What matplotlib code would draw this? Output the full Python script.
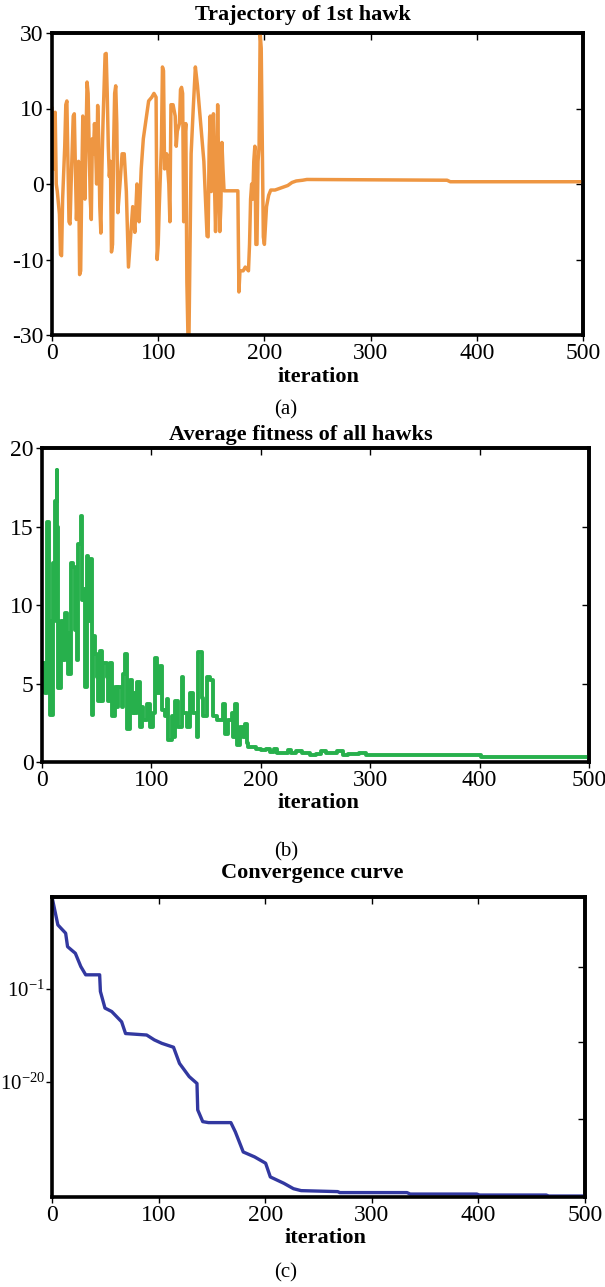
import numpy as np
import matplotlib
matplotlib.use("Agg")
import matplotlib.pyplot as plt

plt.rcParams['font.family'] = ['Liberation Serif', 'DejaVu Serif']
plt.rcParams['mathtext.fontset'] = 'custom'
plt.rcParams['mathtext.rm'] = 'Liberation Serif'
plt.rcParams['mathtext.it'] = 'Liberation Serif:italic'

# ---- (a) trajectory of 1st hawk (positions on the axis; ticks labelled as in the figure)
traj_iter = [0, 1, 2, 3, 4, 5, 7, 8, 9, 10, 12, 13, 14, 15, 16, 17, 18, 20, 21, 22,
             23, 25, 26, 27, 28, 29, 30, 31, 32, 33, 34, 35, 36, 37, 38, 39, 40, 41, 42, 43,
             44, 45, 46, 47, 48, 50, 51, 52, 53, 54, 55, 56, 57, 58, 59, 60, 61, 62, 64, 66,
             68, 70, 71, 72, 74, 76, 78, 80, 81, 82, 84, 86, 88, 91, 94, 96, 98, 99, 100, 101,
             102, 103, 104, 105, 106, 108, 110, 111, 112, 114, 116, 117, 118, 120, 121, 122, 123, 124, 125, 126,
             127, 128, 129, 130, 131, 133, 135, 137, 140, 143, 146, 147, 148, 149, 150, 151, 152, 153, 154, 155,
             156, 157, 158, 159, 160, 161, 162, 168, 175, 176, 177, 180, 182, 185, 186, 187, 188, 189, 190, 191,
             192, 193, 194, 195, 196, 197, 198, 199, 200, 202, 204, 206, 210, 214, 218, 222, 226, 230, 236, 240,
             372, 375, 500]
traj_val = [10, 8, 2, 9.5, 0, -1, -4, -9.3, -9.5, -2, 5, 10.5, 11, 3, -5, -5.3, 0, 9, 9.3, 2,
            -4.7, 3, -12, -11.5, 0, 9, 2, -2, 6, 13.5, 12, 5, -2, -4.7, 6, 4, 8, 5, 0, 10.4,
            6, -3, -6.5, 2, 8, 17.2, 17.3, 12, 5, 1, 3, -9, -8, 5, 12, 13, 8, -3.8, 0, 4,
            4, -1, -6, -11, -7, -3, -6.4, 0, -2, -5, 2, 6, 8, 11, 11.5, 12, 11.5, -10, -8, -3,
            1, 5, 15.5, 15, 2, 4, 0, -5, 10.5, 10.5, 9, 5, 7, 8, 12.5, 12.8, 12, -5, 6, 8,
            -13, -20, -20, -8, 4, 10, 15.5, 13, 8, 3, -6.9, -7, 5, 9, -1, 4, 9.3, 0, -6.3, 0,
            10.5, 2, -6.3, -3, 5.5, 2, -0.9, -0.9, -0.9, -14.3, -11.5, -11.5, -11, -11.5, -8, -2, 0, -2, 3, 5,
            -8, -8, 3, 5, 20, 18, 5, -7, -8, -3, -1.5, -0.8, -0.8, -0.6, -0.4, -0.2, 0.2, 0.4, 0.5, 0.6,
            0.5, 0.3, 0.3]
traj_yticks = [-20, -10, 0, 10, 20]
traj_ylabels = ['-30', '-10', '0', '10', '30']

# ---- (b) average fitness of all hawks
fit_iter = [0, 1.2, 2.4, 4.9, 6.1, 7.3, 9.8, 11, 11.9, 13.4, 14, 14.9, 17.1, 18.9, 21, 22.6, 24.1, 26.2, 28.7, 30.2,
            31.7, 33.2, 35.4, 36.3, 37.8, 39.3, 40.9, 42.4, 43.9, 45.4, 47, 48.5, 50, 51.5, 53, 54.6, 56.1, 59.1, 60.7, 62.2,
            63.7, 66.8, 68.3, 69.8, 72.9, 74.4, 75.9, 78, 80.5, 82, 83.5, 85, 86.6, 89.6, 91.2, 92.7, 95.7, 98.8, 101.8, 103.4,
            104.9, 107.9, 109.5, 112.5, 114, 115.5, 118.6, 120.1, 121.6, 124.7, 127.7, 129.3, 132.3, 135.4, 138.4, 141.5, 143, 146, 147.6, 150.6,
            153.7, 156.7, 159.8, 162.8, 165.2, 167.4, 170.4, 173.5, 175, 176.5, 178, 181.1, 184.1, 185.7, 187.2, 188.7, 196, 200, 205, 208,
            212, 215, 220, 225, 228, 232, 238, 245, 250, 255, 260, 265, 270, 275, 280, 285, 290, 295, 296, 400,
            401, 500]
fit_val = [6.3, 6.3, 4.4, 15.3, 9.0, 3.0, 12.7, 9.0, 16.6, 18.6, 15.0, 4.7, 9.0, 6.5, 9.5, 8.2, 5.6, 12.7, 12.4, 8.4,
           6.5, 13.9, 15.7, 10.3, 11.0, 4.8, 13.1, 9.0, 12.9, 3.0, 8.0, 6.9, 5.4, 3.9, 7.1, 3.9, 6.3, 5.4, 3.9, 6.3,
           2.9, 4.8, 3.5, 4.8, 3.5, 5.6, 6.9, 2.1, 5.2, 3.1, 4.4, 3.1, 5.1, 2.2, 3.5, 2.7, 3.7, 2.2, 3.1, 6.6,
           4.4, 6.1, 3.3, 2.9, 4.0, 1.4, 2.9, 1.6, 3.9, 2.2, 5.4, 3.1, 2.2, 4.4, 3.1, 1.6, 7.0, 4.1, 2.9, 5.4,
           5.2, 2.9, 2.7, 2.7, 3.7, 1.8, 2.7, 3.1, 1.6, 3.7, 1.1, 2.2, 1.6, 2.4, 1.2, 0.96, 0.85, 0.75, 0.8, 0.65,
           0.85, 0.55, 0.55, 0.75, 0.6, 0.7, 0.6, 0.45, 0.5, 0.7, 0.55, 0.6, 0.7, 0.45, 0.5, 0.5, 0.6, 0.55, 0.45, 0.45,
           0.35, 0.35]

# ---- (c) convergence curve, best fitness as log10 exponent
conv_iter = [0, 5.5, 12.8, 14.6, 21.9, 27, 31.6, 44.7, 45.4, 49.7, 56, 65.3, 69, 88.8, 96, 103, 114, 119.6, 128.7, 136,
             136.7, 141.4, 146.8, 167.8, 172, 179.4, 190, 200.4, 204.8, 217.5, 226.5, 233.7, 268, 270, 333, 336, 398.5, 401, 463.6, 466,
             500]
conv_exp = [17.8, 12.1, 10.4, 7.65, 6.3, 3.6, 1.9, 1.9, -1.5, -4.9, -5.6, -7.7, -10.1, -10.4, -11.4, -12.1, -12.9, -16.2, -18.9, -20.3,
            -25.7, -28.1, -28.3, -28.3, -30.2, -34.3, -35.3, -36.6, -39.4, -40.7, -41.8, -42.2, -42.4, -42.6, -42.6, -42.9, -42.9, -43.1, -43.1, -43.3,
            -43.3]
conv_left_ticks = [1e-1, 1e-20]
conv_left_labels = [r'$10^{-1}$', r'$10^{-20}$']
conv_right_ticks = [10 ** 3.5, 10 ** -11.8, 10 ** -27.6]

W, H = 605, 1287
fig = plt.figure(figsize=(W / 100, H / 100), dpi=100)


def make_axes(l, t, r, b):
    return fig.add_axes([l / W, 1 - b / H, (r - l) / W, (b - t) / H])


def style(ax, right_ticks):
    for s in ax.spines.values():
        s.set_linewidth(2.6)
    ax.set_xlim(0, 500)
    ax.set_xticks([0, 100, 200, 300, 400, 500])
    ax.tick_params(direction='out', length=4, width=1, labelsize=17, pad=2)
    top = ax.secondary_xaxis('top')
    top.set_xticks([100, 200, 300, 400])
    top.set_xticklabels([])
    top.tick_params(direction='in', length=5, width=1)
    top.spines['top'].set_linewidth(2.6)
    right = ax.secondary_yaxis('right')
    right.set_yticks(right_ticks)
    right.set_yticklabels([])
    right.tick_params(direction='in', length=5, width=1)
    right.spines['right'].set_linewidth(2.6)


# (a)
ax1 = make_axes(52, 33, 583, 335)
ax1.plot(traj_iter, traj_val, color='#EE9642', lw=2.5)
ax1.set_ylim(-20, 20)
ax1.set_yticks(traj_yticks)
ax1.set_yticklabels(traj_ylabels)
style(ax1, [-10, 0, 10])

# (b)
ax2 = make_axes(42, 448, 589, 762)
ax2.plot(fit_iter, fit_val, color='#27B04C', lw=2.8, drawstyle='steps-post')
ax2.set_ylim(0, 20)
ax2.set_yticks([0, 5, 10, 15, 20])
style(ax2, [5, 10, 15])

# (c)
ax3 = make_axes(52, 897, 585, 1197)
ax3.semilogy(conv_iter, 10.0 ** np.array(conv_exp), color='#3238A0', lw=2.4)
ax3.set_ylim(10 ** -43.5, 10 ** 17.8)
ax3.set_yticks(conv_left_ticks)
ax3.set_yticklabels(conv_left_labels)
ax3.yaxis.set_minor_locator(matplotlib.ticker.NullLocator())
style(ax3, conv_right_ticks)
ax3.tick_params(axis='y', labelsize=15, pad=1)

# titles, axis names, panel letters
title_kw = dict(ha='center', va='center', fontsize=16, fontweight='bold')
fig.text(303 / W, 1 - 15 / H, 'Trajectory of 1st hawk', **title_kw)
fig.text(301 / W, 1 - 435 / H, 'Average fitness of all hawks', **title_kw)
fig.text(312 / W, 1 - 873 / H, 'Convergence curve', **title_kw)

lab_kw = dict(ha='center', va='center', fontsize=16, fontweight='bold')
fig.text(318 / W, 1 - 377 / H, 'iteration', **lab_kw)
fig.text(318 / W, 1 - 803 / H, 'iteration', **lab_kw)
fig.text(325 / W, 1 - 1238 / H, 'iteration', **lab_kw)

fig.text(286 / W, 1 - 410 / H, '(a)', ha='center', va='center', fontsize=15)
fig.text(286 / W, 1 - 852 / H, '(b)', ha='center', va='center', fontsize=15)
fig.text(286 / W, 1 - 1273 / H, '(c)', ha='center', va='center', fontsize=15)

fig.savefig('out.png', dpi=100)
